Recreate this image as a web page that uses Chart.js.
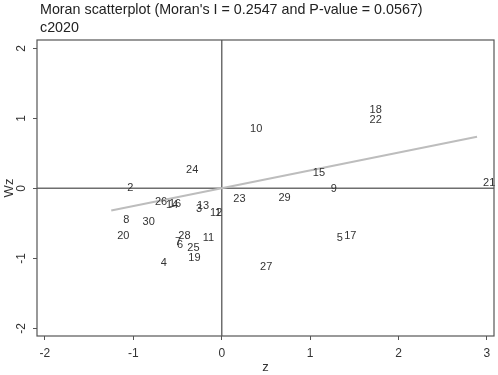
<!DOCTYPE html>
<html>
<head>
<meta charset="utf-8">
<script src="https://cdn.jsdelivr.net/npm/chart.js@4.4.1/dist/chart.umd.min.js"></script>
<style>
  html, body { margin: 0; padding: 0; background: #fff; }
  #wrap { width: 498px; height: 375px; }
</style>
</head>
<body>
<div id="wrap"><canvas id="myChart" width="498" height="375"></canvas></div>
<script>
// region ids, standardized value z and spatial lag Wz
const regionIds = [1, 2, 3, 4, 5, 6, 7, 8, 9, 10, 11, 12, 13, 14, 15,
                   16, 17, 18, 19, 20, 21, 22, 23, 24, 25, 26, 27, 28, 29, 30];
const zValues = [-0.144, -1.137, -0.359, -0.759, 1.234, -0.574, -0.597, -1.182, 1.166, 0.253,
                 -0.283, -0.200, -0.348, -0.699, 0.963, -0.665, 1.317, 1.604, -0.446, -1.250,
                 2.888, 1.604, 0.063, -0.472, -0.458, -0.823, 0.366, -0.559, 0.573, -0.963];
const wzValues = [-0.353, 0.000, -0.289, -1.063, -0.714, -0.810, -0.767, -0.453, -0.014, 0.843,
                  -0.706, -0.353, -0.253, -0.231, 0.214, -0.224, -0.681, 1.119, -0.991, -0.677,
                  0.071, 0.976, -0.157, 0.261, -0.857, -0.191, -1.120, -0.677, -0.143, -0.486];

// fitted line end points
const fitZ = [-1.250, 2.888];
const fitWz = [-0.318, 0.736];

const xTicks = [-2, -1, 0, 1, 2, 3];
const yTicks = [-2, -1, 0, 1, 2];

const titleLines = ["Moran scatterplot (Moran's I = 0.2547 and P-value = 0.0567)", 'c2020'];

const FONT = "'Liberation Sans', Arial, sans-serif";

const points = zValues.map((z, i) => ({ x: z, y: wzValues[i] }));
const fitPoints = fitZ.map((z, i) => ({ x: z, y: fitWz[i] }));

// draws box, zero lines, point labels, y tick labels and the title
const moranPlugin = {
    id: 'moranPlugin',
    beforeDatasetsDraw(chart) {
        const ctx = chart.ctx;
        const a = chart.chartArea;
        const xs = chart.scales.x;
        const ys = chart.scales.y;
        ctx.save();
        ctx.strokeStyle = '#6e6e6e';
        ctx.lineWidth = 1.5;
        const x0 = xs.getPixelForValue(0);
        const y0 = ys.getPixelForValue(0);
        ctx.beginPath();
        ctx.moveTo(x0, a.top);
        ctx.lineTo(x0, a.bottom);
        ctx.moveTo(a.left, y0);
        ctx.lineTo(a.right, y0);
        ctx.stroke();
        ctx.restore();
    },
    afterDatasetsDraw(chart) {
        const ctx = chart.ctx;
        const a = chart.chartArea;
        const ys = chart.scales.y;
        ctx.save();

        // point labels, to the right of each (hidden) point
        const meta = chart.getDatasetMeta(0);
        ctx.fillStyle = '#333';
        ctx.font = '11px ' + FONT;
        ctx.textAlign = 'left';
        ctx.textBaseline = 'middle';
        meta.data.forEach((pt, i) => {
            ctx.fillText(String(regionIds[i]), pt.x + 6, pt.y);
        });

        // plot box
        ctx.strokeStyle = '#555';
        ctx.lineWidth = 1.2;
        ctx.strokeRect(a.left, a.top, a.right - a.left, a.bottom - a.top);

        // y tick labels, rotated
        ctx.fillStyle = '#333';
        ctx.font = '12px ' + FONT;
        ctx.textAlign = 'center';
        ctx.textBaseline = 'middle';
        yTicks.forEach(v => {
            const py = ys.getPixelForValue(v);
            ctx.save();
            ctx.translate(22, py);
            ctx.rotate(-Math.PI / 2);
            ctx.fillText(String(v), 0, 0);
            ctx.restore();
        });

        // title
        ctx.fillStyle = '#222';
        ctx.font = '14.3px ' + FONT;
        ctx.textAlign = 'left';
        ctx.textBaseline = 'middle';
        ctx.fillText(titleLines[0], 40, 10);
        ctx.fillText(titleLines[1], 40, 28);
        ctx.restore();
    }
};

const ctx = document.getElementById('myChart').getContext('2d');
new Chart(ctx, {
    type: 'scatter',
    data: {
        datasets: [{
            label: 'regions',
            data: points,
            pointRadius: 0,
            pointHoverRadius: 0,
            showLine: false
        }, {
            label: 'fit',
            type: 'line',
            data: fitPoints,
            borderColor: '#bdbdbd',
            borderWidth: 2,
            pointRadius: 0,
            fill: false
        }]
    },
    options: {
        responsive: false,
        animation: false,
        layout: { padding: { top: 40, right: 4, left: 0, bottom: 0 } },
        plugins: {
            legend: { display: false },
            tooltip: { enabled: false }
        },
        scales: {
            x: {
                type: 'linear',
                min: -2.09,
                max: 3.08,
                afterBuildTicks: (scale) => { scale.ticks = xTicks.map(v => ({ value: v })); },
                afterFit: (scale) => { scale.height = 39; },
                ticks: {
                    includeBounds: false,
                    color: '#333',
                    font: { family: FONT, size: 12 },
                    padding: 6,
                    maxRotation: 0,
                    callback: (v) => String(v)
                },
                grid: {
                    drawOnChartArea: false,
                    drawTicks: true,
                    tickLength: 4,
                    color: '#555'
                },
                border: { display: false },
                title: {
                    display: true,
                    text: 'z',
                    color: '#333',
                    font: { family: FONT, size: 13 },
                    padding: { top: 0, bottom: 0 }
                }
            },
            y: {
                type: 'linear',
                min: -2.11,
                max: 2.12,
                afterBuildTicks: (scale) => { scale.ticks = yTicks.map(v => ({ value: v })); },
                afterFit: (scale) => { scale.width = 37; },
                ticks: {
                    display: false,
                    includeBounds: false
                },
                grid: {
                    drawOnChartArea: false,
                    drawTicks: true,
                    tickLength: 4,
                    color: '#555'
                },
                border: { display: false },
                title: {
                    display: true,
                    text: 'Wz',
                    color: '#333',
                    font: { family: FONT, size: 13 },
                    padding: { top: 2, bottom: 0 }
                }
            }
        }
    },
    plugins: [moranPlugin]
});
</script>
</body>
</html>
